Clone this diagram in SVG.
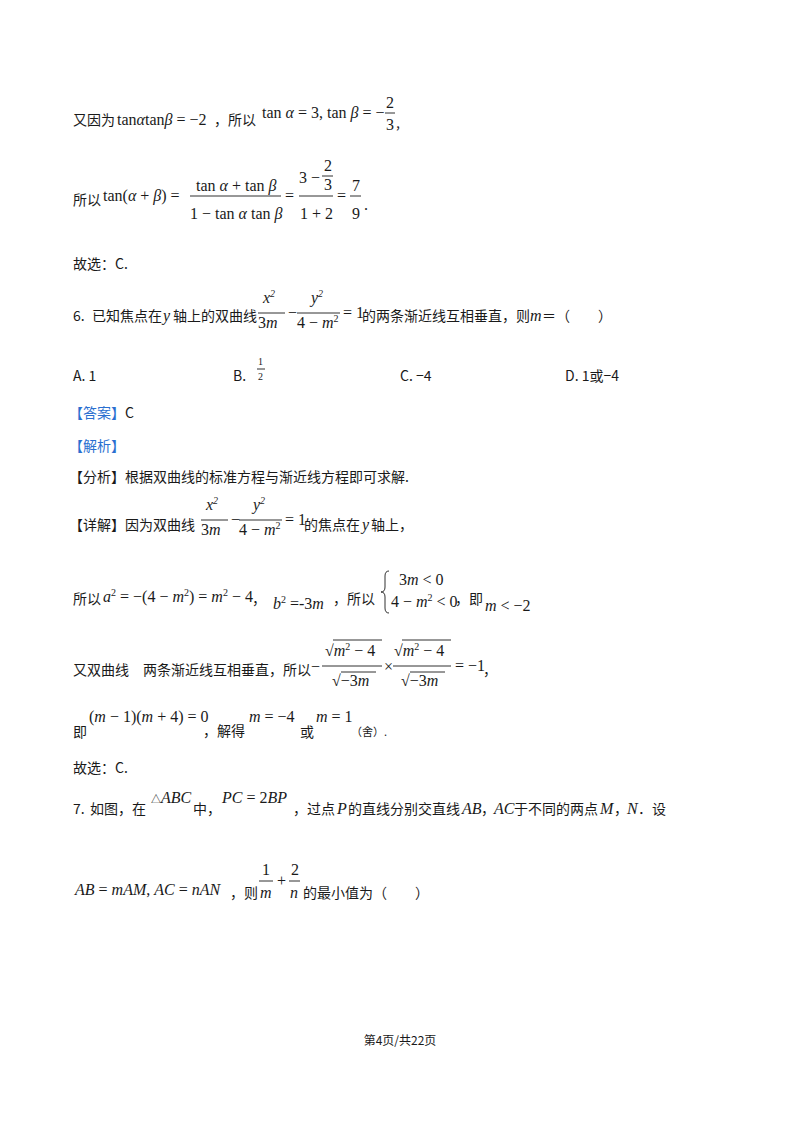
<svg xmlns="http://www.w3.org/2000/svg" width="800" height="1132" viewBox="0 0 800 1132">
<style>
text{font-family:"Liberation Serif","Noto Sans CJK SC",serif;font-size:16px;fill:#1a1a1a}
.c{font-family:"Noto Sans CJK SC","Liberation Sans",sans-serif;font-size:14px}
.i{font-style:italic}
.s{font-size:10px}
.b{fill:#2a6fd0}
line{stroke:#1a1a1a;stroke-width:0.9}
</style>
<rect width="800" height="1132" fill="#fff"/>
<!-- line 1 -->
<text class="c" x="73" y="125">又因为</text>
<text x="117" y="125">tan<tspan class="i">α</tspan>tan<tspan class="i">β</tspan> = −2</text>
<text class="c" x="214" y="125">，所以</text>
<text x="262" y="118">tan <tspan class="i">α</tspan> = 3, tan <tspan class="i">β</tspan> = −</text>
<text x="386" y="108">2</text><line x1="385" y1="113" x2="395" y2="113"/><text x="386" y="130">3</text>
<text class="c" x="396" y="128">,</text>
<!-- line 2 -->
<text class="c" x="73" y="205">所以</text>
<text x="103" y="201">tan(<tspan class="i">α</tspan> + <tspan class="i">β</tspan>) =</text>
<text x="196" y="191">tan <tspan class="i">α</tspan> + tan <tspan class="i">β</tspan></text>
<line x1="190" y1="196" x2="281" y2="196"/>
<text x="190" y="219">1 − tan <tspan class="i">α</tspan> tan <tspan class="i">β</tspan></text>
<text x="285" y="201">=</text>
<text x="299" y="183">3 −</text>
<text x="324" y="171">2</text><line x1="322" y1="176" x2="333" y2="176"/><text x="324" y="190">3</text>
<line x1="299" y1="196" x2="333" y2="196"/>
<text x="300" y="219">1 + 2</text>
<text x="337" y="201">=</text>
<text x="352" y="191">7</text><line x1="350" y1="196" x2="361" y2="196"/><text x="352" y="219">9</text>
<text x="364" y="210">.</text>
<text class="c" x="73" y="269">故选：C.</text>
<!-- Q6 -->
<text class="c" x="73" y="321">6.</text>
<text class="c" x="92" y="321">已知焦点在</text>
<text class="i" x="163" y="321">y</text>
<text class="c" x="173" y="321">轴上的双曲线</text>
<text class="i" x="263" y="303">x<tspan class="s" dy="-6">2</tspan></text>
<line x1="258" y1="313" x2="285" y2="313"/>
<text x="258" y="328">3<tspan class="i">m</tspan></text>
<text x="288" y="318">−</text>
<text class="i" x="311" y="303">y<tspan class="s" dy="-6">2</tspan></text>
<line x1="297" y1="313" x2="340" y2="313"/>
<text x="297" y="328">4 − <tspan class="i">m</tspan><tspan class="s" dy="-6">2</tspan></text>
<text x="343" y="318">= 1</text>
<text class="c" x="362" y="321">的两条渐近线互相垂直，则</text>
<text class="i" x="530" y="321">m</text>
<text class="c" x="542" y="321">＝（　　）</text>
<text class="c" x="73" y="381">A. 1</text>
<text class="c" x="233" y="381">B.</text>
<text class="s" x="258" y="365">1</text><line x1="257" y1="369" x2="265" y2="369"/><text class="s" x="258" y="380">2</text>
<text class="c" x="400" y="381">C. −4</text>
<text class="c" x="565" y="381">D. 1或−4</text>
<text class="c" x="69" y="418"><tspan class="b">【答案】</tspan>C</text>
<text class="c b" x="69" y="451">【解析】</text>
<text class="c" x="69" y="482">【分析】根据双曲线的标准方程与渐近线方程即可求解.</text>
<text class="c" x="69" y="530">【详解】因为双曲线</text>
<text class="i" x="206" y="510">x<tspan class="s" dy="-6">2</tspan></text>
<line x1="201" y1="520" x2="228" y2="520"/>
<text x="201" y="535">3<tspan class="i">m</tspan></text>
<text x="231" y="525">−</text>
<text class="i" x="253" y="510">y<tspan class="s" dy="-6">2</tspan></text>
<line x1="239" y1="520" x2="282" y2="520"/>
<text x="239" y="535">4 − <tspan class="i">m</tspan><tspan class="s" dy="-6">2</tspan></text>
<text x="285" y="525">= 1</text>
<text class="c" x="304" y="530">的焦点在</text>
<text class="i" x="362" y="530">y</text>
<text class="c" x="371" y="530">轴上，</text>
<!-- a^2 line -->
<text class="c" x="73" y="604">所以</text>
<text x="103" y="602"><tspan class="i">a</tspan><tspan class="s" dy="-6">2</tspan><tspan dy="6"> = −(4 − </tspan><tspan class="i">m</tspan><tspan class="s" dy="-6">2</tspan><tspan dy="6">) = </tspan><tspan class="i">m</tspan><tspan class="s" dy="-6">2</tspan><tspan dy="6"> − 4</tspan></text>
<text class="c" x="252" y="604">，</text>
<text x="273" y="609"><tspan class="i">b</tspan><tspan class="s" dy="-6">2</tspan><tspan dy="6"> =-3</tspan><tspan class="i">m</tspan></text>
<text class="c" x="333" y="604">，所以</text>
<path d="M389 571 q-4 0 -4 5 v11 q0 5 -4 5 q4 0 4 5 v11 q0 5 4 5" fill="none" stroke="#1a1a1a" stroke-width="0.9"/>
<text x="399" y="585">3<tspan class="i">m</tspan> &lt; 0</text>
<text x="391" y="607">4 − <tspan class="i">m</tspan><tspan class="s" dy="-6">2</tspan><tspan dy="6"> &lt; 0</tspan></text>
<text class="c" x="455" y="604">，即</text>
<text x="485" y="611"><tspan class="i">m</tspan> &lt; −2</text>
<!-- perpendicular line -->
<text class="c" x="73" y="675">又双曲线　两条渐近线互相垂直，所以</text>
<text x="311" y="672">−</text>
<text x="325" y="656">√<tspan class="i">m</tspan><tspan class="s" dy="-6">2</tspan><tspan dy="6"> − 4</tspan></text>
<line x1="333" y1="640" x2="382" y2="640"/>
<line x1="322" y1="666" x2="382" y2="666"/>
<text x="332" y="686">√−3<tspan class="i">m</tspan></text>
<line x1="341" y1="672" x2="376" y2="672"/>
<text x="384" y="672">×</text>
<text x="394" y="656">√<tspan class="i">m</tspan><tspan class="s" dy="-6">2</tspan><tspan dy="6"> − 4</tspan></text>
<line x1="402" y1="640" x2="451" y2="640"/>
<line x1="393" y1="666" x2="451" y2="666"/>
<text x="401" y="686">√−3<tspan class="i">m</tspan></text>
<line x1="410" y1="672" x2="445" y2="672"/>
<text x="455" y="671">= −1</text>
<text class="c" x="483" y="675">，</text>
<!-- (m-1)(m+4) -->
<text class="c" x="73" y="737">即</text>
<text x="89" y="722">(<tspan class="i">m</tspan> − 1)(<tspan class="i">m</tspan> + 4) = 0</text>
<text class="c" x="203" y="736">，解得</text>
<text x="249" y="722"><tspan class="i">m</tspan> = −4</text>
<text class="c" x="300" y="737">或</text>
<text x="316" y="722"><tspan class="i">m</tspan> = 1</text>
<text class="c" x="351" y="736" style="font-size:11px">（舍）.</text>
<text class="c" x="73" y="773">故选：C.</text>
<!-- Q7 -->
<text class="c" x="73" y="814">7.</text>
<text class="c" x="90" y="814">如图，在</text>
<text x="151" y="803"><tspan class="s">△</tspan><tspan class="i">ABC</tspan></text>
<text class="c" x="193" y="814">中，</text>
<text x="222" y="803"><tspan class="i">PC</tspan> = 2<tspan class="i">BP</tspan></text>
<text class="c" x="293" y="814">，过点</text>
<text class="i" x="337" y="814">P</text>
<text class="c" x="348" y="814">的直线分别交直线</text>
<text class="i" x="462" y="814">AB</text>
<text class="c" x="481" y="814">，</text>
<text class="i" x="494" y="814">AC</text>
<text class="c" x="514" y="814">于不同的两点</text>
<text class="i" x="600" y="814">M</text>
<text class="c" x="614" y="814">，</text>
<text class="i" x="627" y="814">N</text>
<text class="c" x="638" y="814">．设</text>
<text x="75" y="895"><tspan class="i">AB</tspan> = <tspan class="i">mAM</tspan>, <tspan class="i">AC</tspan> = <tspan class="i">nAN</tspan></text>
<text class="c" x="230" y="898">，则</text>
<text x="262" y="875">1</text><line x1="259" y1="881" x2="273" y2="881"/><text class="i" x="260" y="898">m</text>
<text x="277" y="886">+</text>
<text x="291" y="875">2</text><line x1="289" y1="881" x2="300" y2="881"/><text class="i" x="290" y="898">n</text>
<text class="c" x="303" y="898">的最小值为（　　）</text>
<text class="c" x="400" y="1045" text-anchor="middle" style="font-size:12px">第4页/共22页</text>
</svg>
